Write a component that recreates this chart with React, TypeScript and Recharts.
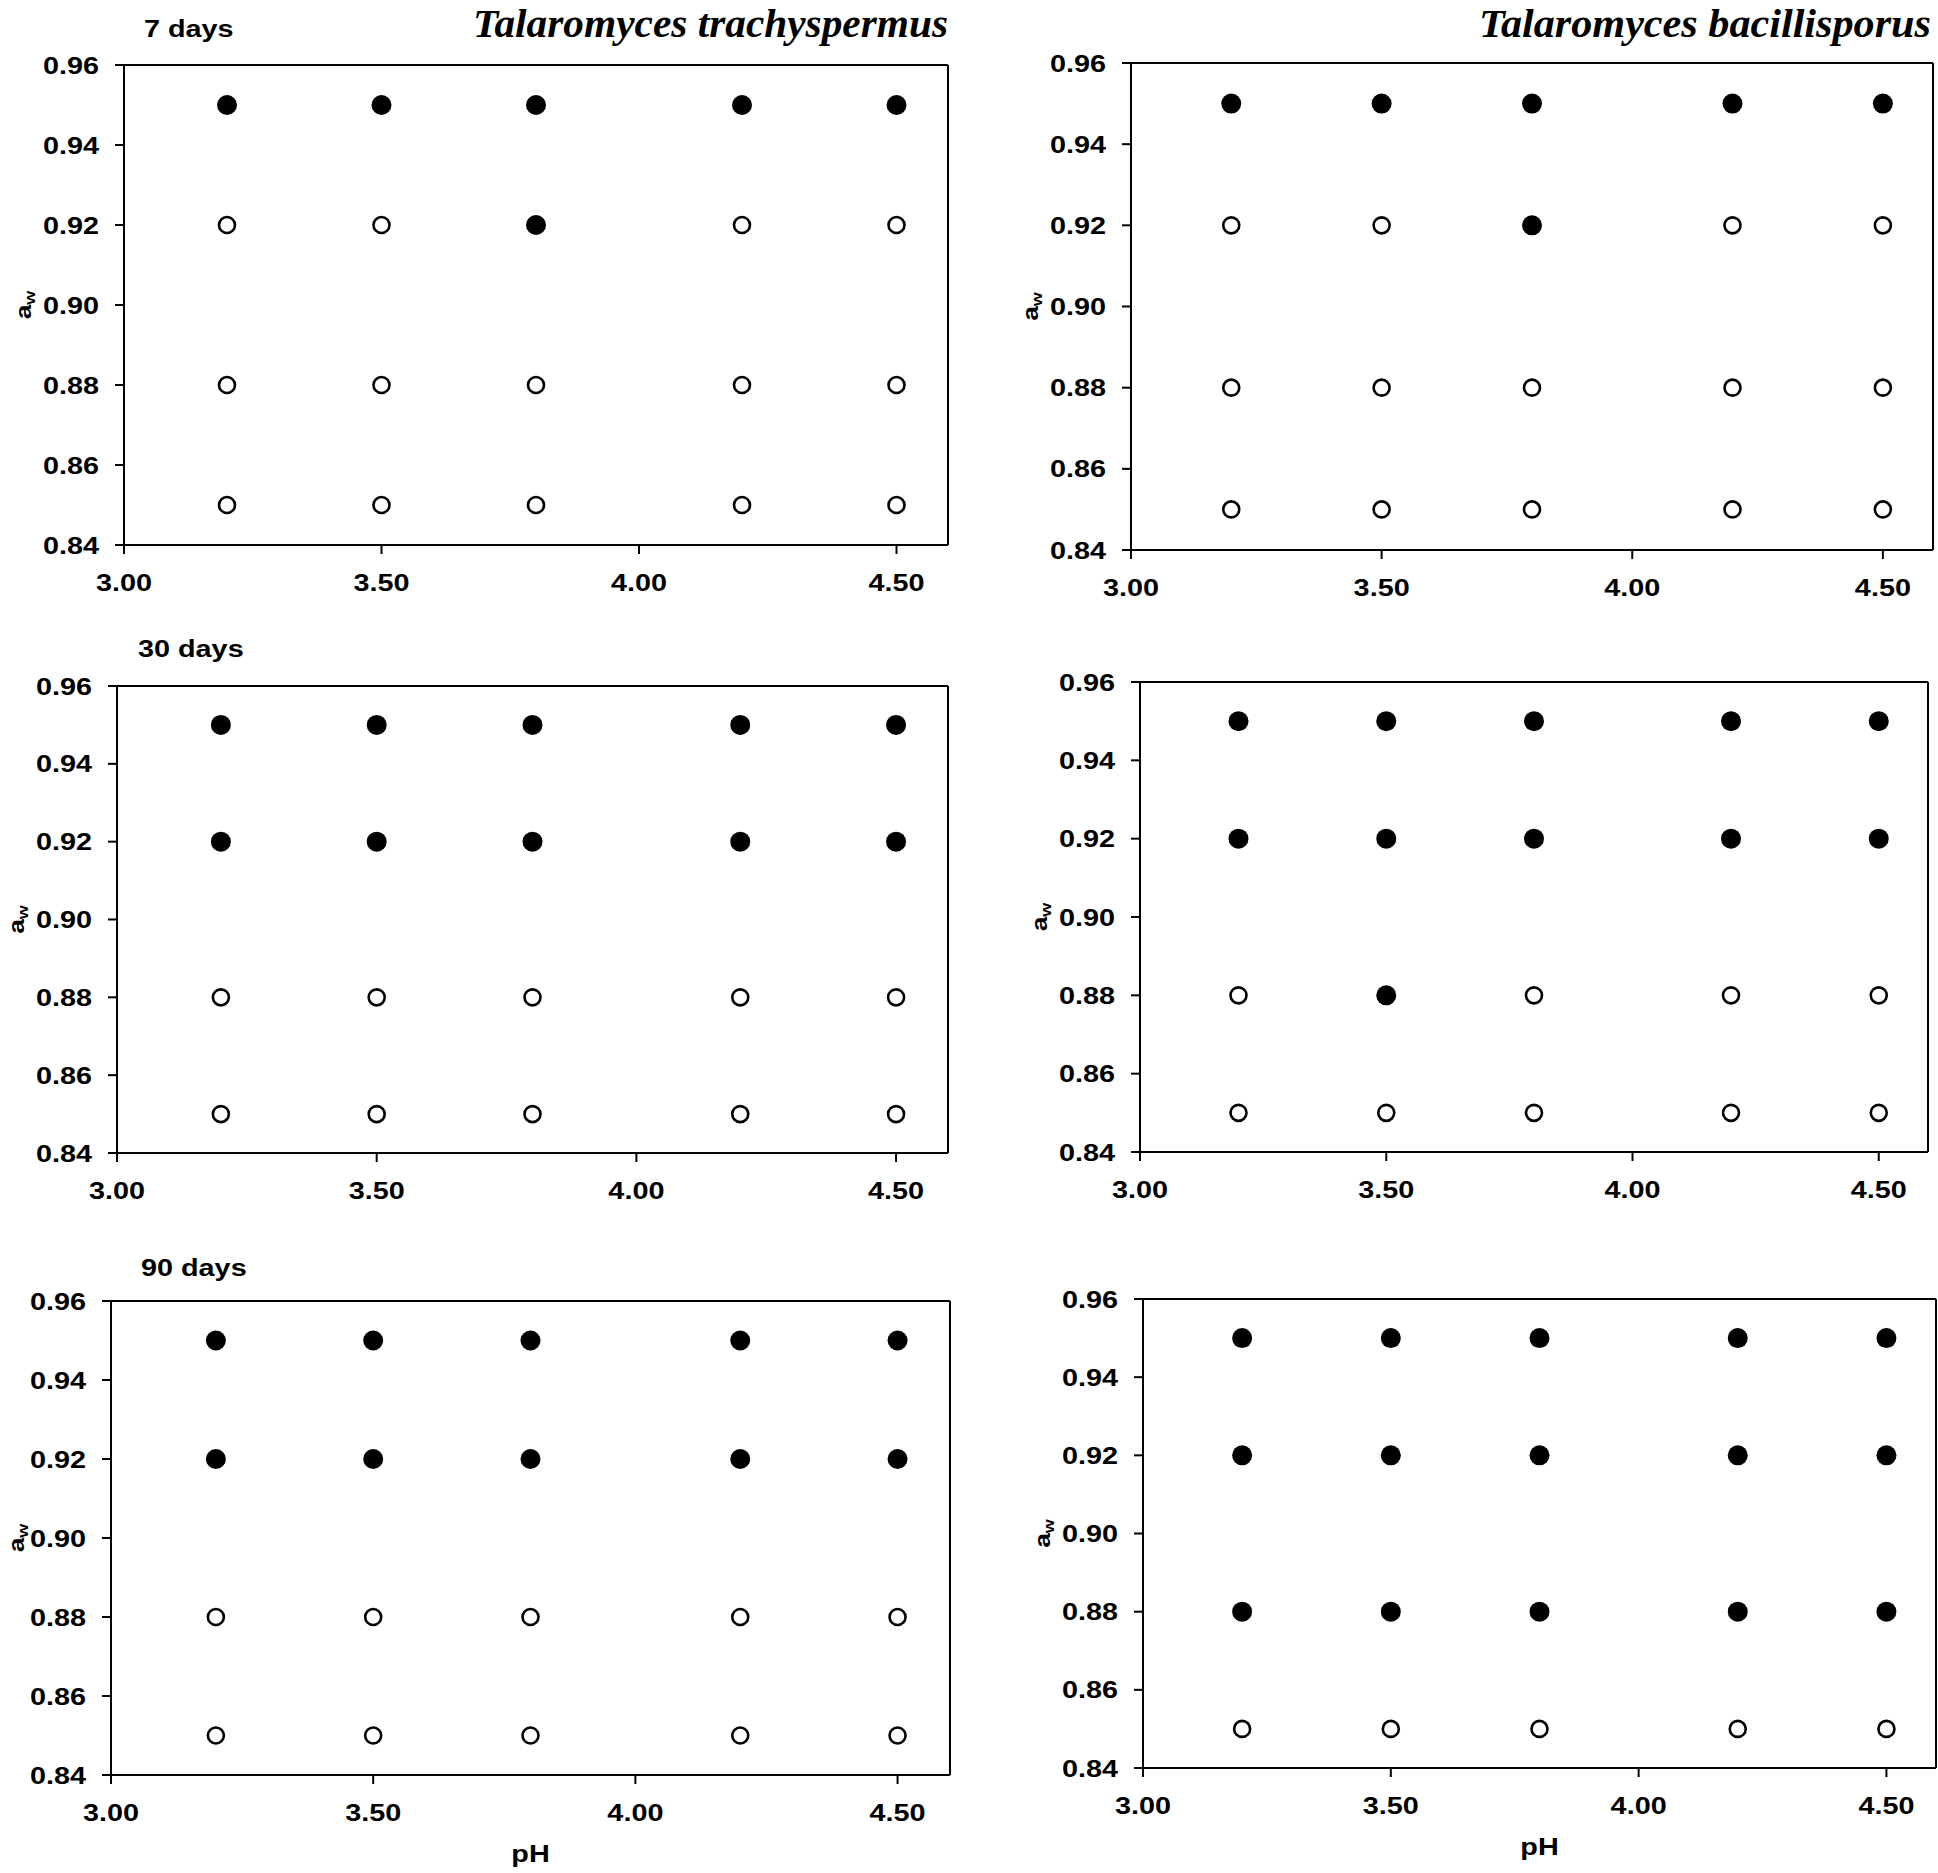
import { ReferenceLine, Scatter, ScatterChart, XAxis, YAxis } from "recharts";

// pH levels tested (x) and water activity levels (y)
const phLevels = [3.2, 3.5, 3.8, 4.2, 4.5];
const awLevels = [0.95, 0.92, 0.88, 0.85];
const xTicks = [3, 3.5, 4, 4.5];
const yTicks = [0.84, 0.86, 0.88, 0.9, 0.92, 0.94, 0.96];

// 1 = growth (filled), 0 = no growth (open); rows follow awLevels, columns follow phLevels
const trachy7 = [
	[1, 1, 1, 1, 1],
	[0, 0, 1, 0, 0],
	[0, 0, 0, 0, 0],
	[0, 0, 0, 0, 0],
];
const bacilli7 = [
	[1, 1, 1, 1, 1],
	[0, 0, 1, 0, 0],
	[0, 0, 0, 0, 0],
	[0, 0, 0, 0, 0],
];
const trachy30 = [
	[1, 1, 1, 1, 1],
	[1, 1, 1, 1, 1],
	[0, 0, 0, 0, 0],
	[0, 0, 0, 0, 0],
];
const bacilli30 = [
	[1, 1, 1, 1, 1],
	[1, 1, 1, 1, 1],
	[0, 1, 0, 0, 0],
	[0, 0, 0, 0, 0],
];
const trachy90 = [
	[1, 1, 1, 1, 1],
	[1, 1, 1, 1, 1],
	[0, 0, 0, 0, 0],
	[0, 0, 0, 0, 0],
];
const bacilli90 = [
	[1, 1, 1, 1, 1],
	[1, 1, 1, 1, 1],
	[1, 1, 1, 1, 1],
	[0, 0, 0, 0, 0],
];

const SANS = "'Liberation Sans', Arial, Helvetica, sans-serif";
const SERIF = "'Liberation Serif', 'Times New Roman', serif";
const STRETCH = 1.2;

const AXIS_W = 140;
const TOP = 22;
const RIGHT = 2;

// plot boxes: left, top, right, bottom; awGap = distance of the a_w label from the axis
const panels = [
	{ grid: trachy7, box: [124, 65, 948, 545], pH: false, awGap: 93 },
	{ grid: bacilli7, box: [1131, 63, 1933, 550], pH: false, awGap: 93 },
	{ grid: trachy30, box: [117, 686, 948, 1153], pH: false, awGap: 93 },
	{ grid: bacilli30, box: [1140, 682, 1928, 1152], pH: false, awGap: 93 },
	{ grid: trachy90, box: [111, 1301, 950, 1775], pH: true, awGap: 87 },
	{ grid: bacilli90, box: [1143, 1299, 1936, 1768], pH: true, awGap: 93 },
];

function toPoints(grid: number[][], flag: number) {
	const out: { ph: number; aw: number }[] = [];
	grid.forEach((row, i) =>
		row.forEach((v, j) => {
			if (v === flag) out.push({ ph: phLevels[j], aw: awLevels[i] });
		}),
	);
	return out;
}

const FilledDot = (p: any) => <circle cx={p.cx} cy={p.cy} r={10} fill="#000" />;
const OpenDot = (p: any) => <circle cx={p.cx} cy={p.cy} r={8} fill="#fff" stroke="#000" strokeWidth={2.6} />;

const YTick = ({ x, y, payload }: any) => (
	<text
		transform={`translate(${x},${y}) scale(${STRETCH},1)`}
		textAnchor="end"
		dy="0.36em"
		fontFamily={SANS}
		fontWeight={700}
		fontSize={24}
		fill="#000"
	>
		{payload.value.toFixed(2)}
	</text>
);

const XTick = ({ x, y, payload }: any) => (
	<text
		transform={`translate(${x},${y}) scale(${STRETCH},1)`}
		textAnchor="middle"
		dy={37}
		fontFamily={SANS}
		fontWeight={700}
		fontSize={24}
		fill="#000"
	>
		{payload.value.toFixed(2)}
	</text>
);

const AwLabel = ({ viewBox, gap }: any) => {
	const bx = viewBox.x + viewBox.width - gap;
	const cy = viewBox.y + viewBox.height / 2;
	return (
		<text
			transform={`translate(${bx},${cy}) rotate(-90) scale(${STRETCH},1)`}
			textAnchor="middle"
			fontFamily={SANS}
			fontWeight={700}
			fontSize={22}
			fill="#000"
		>
			a<tspan fontSize={15} dy={4}>w</tspan>
		</text>
	);
};

const PhLabel = ({ viewBox }: any) => (
	<text
		transform={`translate(${viewBox.x + viewBox.width / 2},${viewBox.y + 87}) scale(${STRETCH},1)`}
		textAnchor="middle"
		fontFamily={SANS}
		fontWeight={700}
		fontSize={24}
		fill="#000"
	>
		pH
	</text>
);

function Panel({ grid, box, pH, awGap }: { grid: number[][]; box: number[]; pH: boolean; awGap: number }) {
	const [l, t, r, b] = box;
	const xAxisH = pH ? 110 : 60;
	const width = AXIS_W + (r - l) + RIGHT;
	const height = TOP + (b - t) + xAxisH;
	const axisStyle = { stroke: "#000", strokeWidth: 2 };

	return (
		<div style={{ position: "absolute", left: l - AXIS_W, top: t - TOP }}>
			<ScatterChart width={width} height={height} margin={{ top: TOP, right: RIGHT, bottom: 0, left: 0 }}>
				<XAxis
					type="number"
					dataKey="ph"
					domain={[3, 4.6]}
					ticks={xTicks}
					allowDataOverflow
					height={xAxisH}
					axisLine={axisStyle}
					tickLine={axisStyle}
					tickSize={9}
					tickMargin={0}
					tick={<XTick />}
					label={pH ? (props: any) => <PhLabel {...props} /> : undefined}
				/>
				<YAxis
					type="number"
					dataKey="aw"
					domain={[0.84, 0.96]}
					ticks={yTicks}
					allowDataOverflow
					width={AXIS_W}
					axisLine={axisStyle}
					tickLine={axisStyle}
					tickSize={9}
					tickMargin={16}
					tick={<YTick />}
					label={(props: any) => <AwLabel {...props} gap={awGap} />}
				/>
				<ReferenceLine y={0.96} stroke="#000" strokeWidth={2} />
				<ReferenceLine x={4.6} stroke="#000" strokeWidth={2} />
				<Scatter data={toPoints(grid, 0)} shape={OpenDot} isAnimationActive={false} />
				<Scatter data={toPoints(grid, 1)} shape={FilledDot} isAnimationActive={false} />
			</ScatterChart>
		</div>
	);
}

function DayLabel({ x, y, text }: { x: number; y: number; text: string }) {
	return (
		<text
			transform={`translate(${x},${y}) scale(${STRETCH},1)`}
			fontFamily={SANS}
			fontWeight={700}
			fontSize={24}
			fill="#000"
		>
			{text}
		</text>
	);
}

export default function App() {
	return (
		<div
			style={{
				position: "absolute",
				left: 0,
				top: 0,
				width: 1938,
				height: 1873,
				overflow: "hidden",
				background: "#fff",
			}}
		>
			{panels.map((p, i) => (
				<Panel key={i} {...p} />
			))}
			<svg width={1938} height={1873} style={{ position: "absolute", left: 0, top: 0, pointerEvents: "none" }}>
				<text
					x={948}
					y={37}
					textAnchor="end"
					fontFamily={SERIF}
					fontStyle="italic"
					fontWeight={700}
					fontSize={41}
					textLength={475}
					lengthAdjust="spacingAndGlyphs"
				>
					Talaromyces trachyspermus
				</text>
				<text
					x={1931}
					y={37}
					textAnchor="end"
					fontFamily={SERIF}
					fontStyle="italic"
					fontWeight={700}
					fontSize={41}
					textLength={452}
					lengthAdjust="spacingAndGlyphs"
				>
					Talaromyces bacillisporus
				</text>
				<DayLabel x={144} y={37} text="7 days" />
				<DayLabel x={138} y={657} text="30 days" />
				<DayLabel x={141} y={1276} text="90 days" />
			</svg>
		</div>
	);
}
